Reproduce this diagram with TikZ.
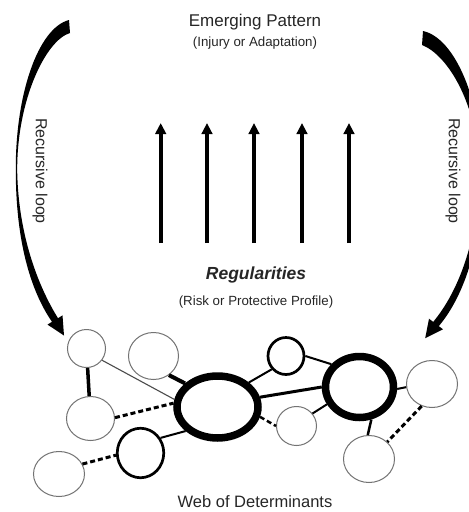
\documentclass[tikz,border=0pt]{standalone}
\usepackage{fontspec}
\setmainfont{Liberation Sans}
\usetikzlibrary{shapes.geometric,arrows.meta}
\begin{document}
\begin{tikzpicture}[x=1pt,y=-1pt,
  circ/.style={ellipse,inner sep=0pt,fill=white},
  thinc/.style={circ,draw=black!55,line width=1pt},
  midc/.style={circ,draw=black,line width=2.7pt},
  bigc/.style={circ,draw=black,line width=7.5pt},
  link/.style={draw=black,line width=#1},
  dlink/.style={draw=black,line width=#1,dash pattern=on 5pt off 3pt},
  uparrow/.style={draw=black,line width=3.8pt,-{Triangle[width=10.5pt,length=11pt]}},
  lbl/.style={inner sep=0pt,text=black!85},
  crescent/.style={fill=black,draw=none}
]
\useasboundingbox (0,0) rectangle (469,512);
\clip (0,0) rectangle (469,512);
\fill[white] (0,0) rectangle (469,512);

% texts
\node[lbl,font=\fontsize{17}{20}\selectfont] (emerg) at (255,22) {Emerging Pattern};
\node[lbl,font=\fontsize{13.3}{16}\selectfont] (injury) at (255,43) {(Injury or Adaptation)};
\node[lbl,font=\fontsize{17.5}{21}\selectfont\bfseries\itshape] (reg) at (256,275) {Regularities};
\node[lbl,font=\fontsize{13.3}{16}\selectfont] (risk) at (256,302) {(Risk or Protective Profile)};
\node[lbl,font=\fontsize{16.5}{20}\selectfont] (web) at (255,502) {Web of Determinants};
\node[lbl,font=\fontsize{16}{19}\selectfont,rotate=-90] (recl) at (40,171) {Recursive loop};
\node[lbl,font=\fontsize{16}{19}\selectfont,rotate=-90] (recr) at (453,171) {Recursive loop};

% upward arrows
\foreach \i/\x in {1/160.7,2/207,3/254,4/302,5/349}{
  \coordinate (ab\i) at (\x,243);
  \coordinate (at\i) at (\x,123);
  \draw[uparrow] (ab\i) -- (at\i);
}

% recursive loop arrows
\path[crescent] (69,20) .. controls (38,28) and (15,95) .. (15.8,172)
  .. controls (16,240) and (30,290) .. (52,321.8)
  -- (47.5,324.6) -- (64,335.5) -- (62.5,315.4) -- (58,318.2)
  .. controls (38,286) and (18.5,235) .. (17.2,172)
  .. controls (16.5,100) and (46,40) .. (70,33) -- cycle;
\path[crescent] (423,31) .. controls (455,38) and (481,100) .. (482,170)
  .. controls (483,240) and (465,295) .. (438.8,326.1)
  -- (443,329.3) -- (425.2,338.2) -- (429,318.7) -- (433.2,321.9)
  .. controls (458,292) and (479,240) .. (479,170)
  .. controls (478,105) and (448,55) .. (422,45) -- cycle;

% network nodes
\node[thinc,minimum width=38pt,minimum height=38pt] (c1) at (86.5,348.5) {};
\node[thinc,minimum width=50pt,minimum height=47pt] (c2) at (153.5,356) {};
\node[thinc,minimum width=48pt,minimum height=44pt] (c3) at (90.5,418.5) {};
\node[thinc,minimum width=51pt,minimum height=45pt] (c4) at (59,474) {};
\node[midc,minimum width=46.5pt,minimum height=49.5pt] (c5) at (140.5,453) {};
\node[bigc,minimum width=81pt,minimum height=62pt] (e6) at (217.5,407) {};
\node[midc,minimum width=36pt,minimum height=37pt] (c7) at (286,356) {};
\node[bigc,minimum width=68pt,minimum height=61pt] (e8) at (359.5,387) {};
\node[thinc,minimum width=40pt,minimum height=39pt] (c9) at (296.5,426) {};
\node[thinc,minimum width=51pt,minimum height=47pt] (c10) at (432,384) {};
\node[thinc,minimum width=51pt,minimum height=47pt] (c11) at (369,459) {};

% links
\draw[link=3.5pt] (c1) -- (c3);
\draw[link=1.1pt,draw=black!70] (c1.-37) -- (e6.170);
\draw[link=4pt] (c2.-51) -- (e6.144);
\draw[dlink=3pt] (c3.2) -- (e6.175);
\draw[link=2pt] (c5.37) -- (e6.-143);
\draw[dlink=3pt] (c4.23) -- (c5.185);
\draw[link=2pt] (e6.38) -- (c7.-137);
\draw[link=3pt] (e6.13) -- (e8.180);
\draw[dlink=2.5pt] (e6.-13) -- (c9.180);
\draw[link=2pt] (c7.0) -- (e8.141);
\draw[link=2pt] (e8.-152) -- (c9.38);
\draw[link=2pt] (e8.-3) -- (c10.187);
\draw[link=2.5pt] (e8.-70) -- (c11.93);
\draw[dlink=3pt] (c10.-115) -- (c11.43);
\end{tikzpicture}
\end{document}
